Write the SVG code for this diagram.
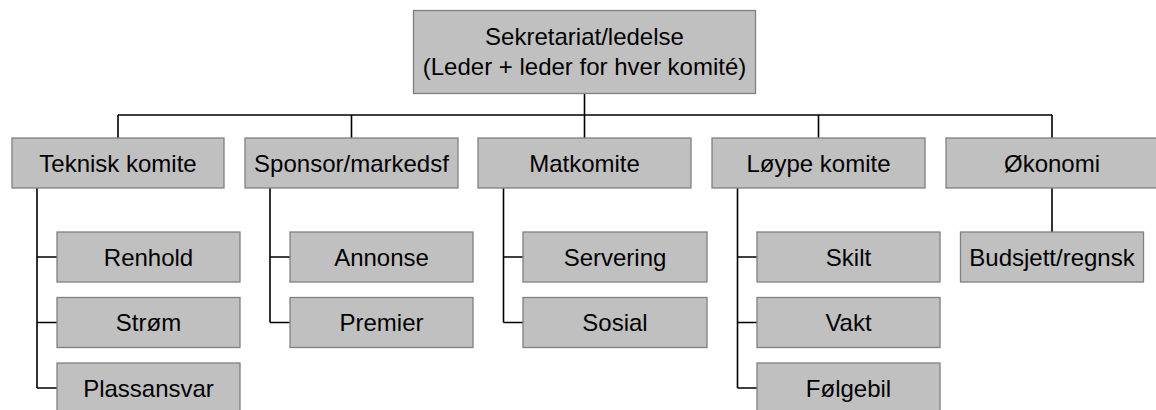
<svg xmlns="http://www.w3.org/2000/svg" width="1156" height="410" viewBox="0 0 1156 410">
<style>
.box{fill:#c0c0c0;stroke:#808080;stroke-width:1.3}
.t{font-family:"Liberation Sans",Arial,sans-serif;font-size:24px;fill:#000;text-anchor:middle}
.c{fill:none;stroke:#000;stroke-width:1.6}
</style>
<rect width="1156" height="410" fill="#fff"/>
<g id="connectors">
<path class="c" d="M584.5 93 V115 M118 115 H1052 M118 115 V138 M351.5 115 V138 M584.5 115 V138 M818.5 115 V138 M1052 115 V138"/>
<path class="c" d="M37 188 V388 M37 257 H57 M37 322.5 H57 M37 388 H57"/>
<path class="c" d="M270 188 V322.5 M270 257 H290 M270 322.5 H290"/>
<path class="c" d="M503.5 188 V322.5 M503.5 257 H523 M503.5 322.5 H523"/>
<path class="c" d="M737.5 188 V388 M737.5 257 H757 M737.5 322.5 H757 M737.5 388 H757"/>
<path class="c" d="M1052 188 V232"/>
</g>
<g id="top"><rect class="box" x="413.5" y="10.5" width="342" height="83"/><text class="t" x="584.5" y="45">Sekretariat/ledelse</text><text class="t" x="584.5" y="75">(Leder + leder for hver komité)</text></g>
<g id="teknisk"><rect class="box" x="12" y="138" width="212" height="50"/><text class="t" x="118" y="171.5">Teknisk komite</text></g>
<g id="sponsor"><rect class="box" x="245" y="138" width="213" height="50"/><text class="t" x="351.5" y="171.5">Sponsor/markedsf</text></g>
<g id="matkomite"><rect class="box" x="478" y="138" width="213" height="50"/><text class="t" x="584.5" y="171.5">Matkomite</text></g>
<g id="loype"><rect class="box" x="712" y="138" width="213" height="50"/><text class="t" x="818.5" y="171.5">Løype komite</text></g>
<g id="okonomi"><rect class="box" x="946" y="138" width="212" height="50"/><text class="t" x="1052" y="171.5">Økonomi</text></g>
<g id="renhold"><rect class="box" x="57" y="232" width="183" height="50"/><text class="t" x="148.5" y="265.5">Renhold</text></g>
<g id="strom"><rect class="box" x="57" y="297.5" width="183" height="50"/><text class="t" x="148.5" y="331">Strøm</text></g>
<g id="plassansvar"><rect class="box" x="57" y="363" width="183" height="50"/><text class="t" x="148.5" y="396.5">Plassansvar</text></g>
<g id="annonse"><rect class="box" x="290" y="232" width="183" height="50"/><text class="t" x="381.5" y="265.5">Annonse</text></g>
<g id="premier"><rect class="box" x="290" y="297.5" width="183" height="50"/><text class="t" x="381.5" y="331">Premier</text></g>
<g id="servering"><rect class="box" x="523" y="232" width="184" height="50"/><text class="t" x="615" y="265.5">Servering</text></g>
<g id="sosial"><rect class="box" x="523" y="297.5" width="184" height="50"/><text class="t" x="615" y="331">Sosial</text></g>
<g id="skilt"><rect class="box" x="757" y="232" width="183" height="50"/><text class="t" x="848.5" y="265.5">Skilt</text></g>
<g id="vakt"><rect class="box" x="757" y="297.5" width="183" height="50"/><text class="t" x="848.5" y="331">Vakt</text></g>
<g id="folgebil"><rect class="box" x="757" y="363" width="183" height="50"/><text class="t" x="848.5" y="396.5">Følgebil</text></g>
<g id="budsjett"><rect class="box" x="960.5" y="232" width="183" height="50"/><text class="t" x="1052" y="265.5">Budsjett/regnsk</text></g>
</svg>
